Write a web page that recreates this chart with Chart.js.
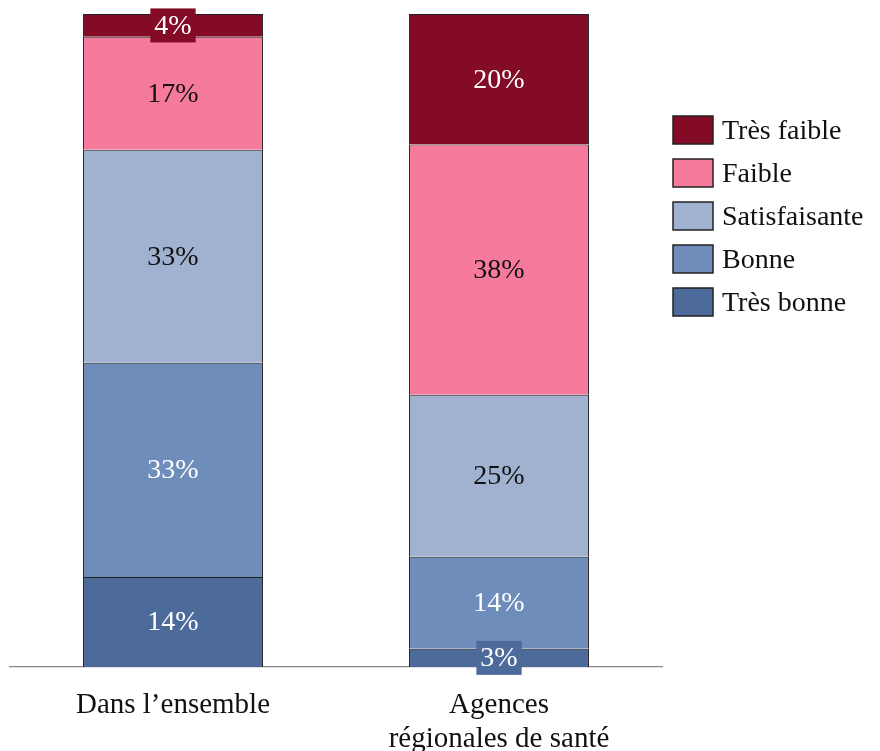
<!DOCTYPE html>
<html lang="fr">
<head>
<meta charset="utf-8">
<title>Qualité perçue</title>
<script src="https://cdn.jsdelivr.net/npm/chart.js@4.4.1/dist/chart.umd.min.js"></script>
<style>
  html, body { margin: 0; padding: 0; background: #fff; }
  #wrap { width: 880px; height: 751px; position: relative; }
</style>
</head>
<body>
<div id="wrap"><canvas id="chart"></canvas></div>
<script>
// ===== Données =====
const categories = ["Dans l’ensemble", ["Agences", "régionales de santé"]];

const seriesNames = ["Très bonne", "Bonne", "Satisfaisante", "Faible", "Très faible"];

// valeurs (hauteurs des segments, en %)
const tresBonne = [13.8, 2.8];
const bonne = [32.8, 14.1];
const satisfaisante = [32.6, 24.8];
const faible = [17.3, 38.3];
const tresFaible = [3.5, 20.0];

// étiquettes affichées
const lblTresBonne = ["14%", "3%"];
const lblBonne = ["33%", "14%"];
const lblSatisfaisante = ["33%", "25%"];
const lblFaible = ["17%", "38%"];
const lblTresFaible = ["4%", "20%"];

// ===== Styles =====
const FONT = "'Liberation Serif', 'Times New Roman', serif";
const colors = ["#4d6b9a", "#6f8dba", "#a0b2cf", "#f57a9b", "#830b26"];
const textColors = ["#fff", "#fff", "#111", "#111", "#fff"];

const values = [tresBonne, bonne, satisfaisante, faible, tresFaible];
const shown = [lblTresBonne, lblBonne, lblSatisfaisante, lblFaible, lblTresFaible];

const datasets = seriesNames.map((name, i) => ({
  label: name,
  data: values[i],
  shownLabels: shown[i],
  textColor: textColors[i],
  backgroundColor: colors[i],
  borderColor: "#222",
  borderWidth: 1,
  barPercentage: 0.552,
  categoryPercentage: 1,
}));

// Etiquettes au centre des segments
const segmentLabels = {
  id: "segmentLabels",
  afterDatasetsDraw(chart) {
    const ctx = chart.ctx;
    ctx.save();
    ctx.font = "28px " + FONT;
    ctx.textAlign = "center";
    ctx.textBaseline = "middle";
    chart.data.datasets.forEach((ds, di) => {
      const meta = chart.getDatasetMeta(di);
      meta.data.forEach((bar, j) => {
        const { x, y, base } = bar.getProps(["x", "y", "base"], true);
        const cy = (y + base) / 2;
        const h = Math.abs(base - y);
        const txt = ds.shownLabels[j];
        if (h < 32) {
          const w = ctx.measureText(txt).width + 8;
          ctx.fillStyle = ds.backgroundColor;
          ctx.fillRect(x - w / 2, cy - 17, w, 34);
        }
        ctx.fillStyle = ds.textColor;
        ctx.fillText(txt, x, cy + 1);
      });
    });
    ctx.restore();
  },
};

// Légende dessinée à droite
const sideLegend = {
  id: "sideLegend",
  afterDraw(chart) {
    const ctx = chart.ctx;
    const left = chart.chartArea.right + 11;
    const top = 116;
    const step = 43;
    ctx.save();
    ctx.font = "28px " + FONT;
    ctx.textBaseline = "middle";
    ctx.textAlign = "left";
    const items = chart.data.datasets.slice().reverse();
    items.forEach((ds, i) => {
      const y = top + i * step;
      ctx.fillStyle = ds.backgroundColor;
      ctx.fillRect(left, y, 40, 28);
      ctx.strokeStyle = "#222";
      ctx.lineWidth = 1.5;
      ctx.strokeRect(left, y, 40, 28);
      ctx.fillStyle = "#111";
      ctx.fillText(ds.label, left + 49, y + 16);
    });
    ctx.restore();
  },
};

new Chart(document.getElementById("chart"), {
  type: "bar",
  data: { labels: categories, datasets },
  options: {
    responsive: true,
    maintainAspectRatio: false,
    animation: false,
    layout: { padding: { left: 10, right: 218, top: 14, bottom: 0 } },
    plugins: {
      legend: { display: false },
      tooltip: { enabled: false },
    },
    scales: {
      x: {
        stacked: true,
        grid: { display: false, drawTicks: false },
        border: { display: true, color: "#888", width: 1.3 },
        ticks: {
          color: "#111",
          padding: 21,
          maxRotation: 0,
          autoSkip: false,
          font: { family: FONT, size: 29, lineHeight: 1.18 },
        },
        afterFit: (scale) => { scale.height = 84; },
      },
      y: {
        stacked: true,
        display: false,
        min: 0,
        max: 100,
      },
    },
  },
  plugins: [segmentLabels, sideLegend],
});
</script>
</body>
</html>
